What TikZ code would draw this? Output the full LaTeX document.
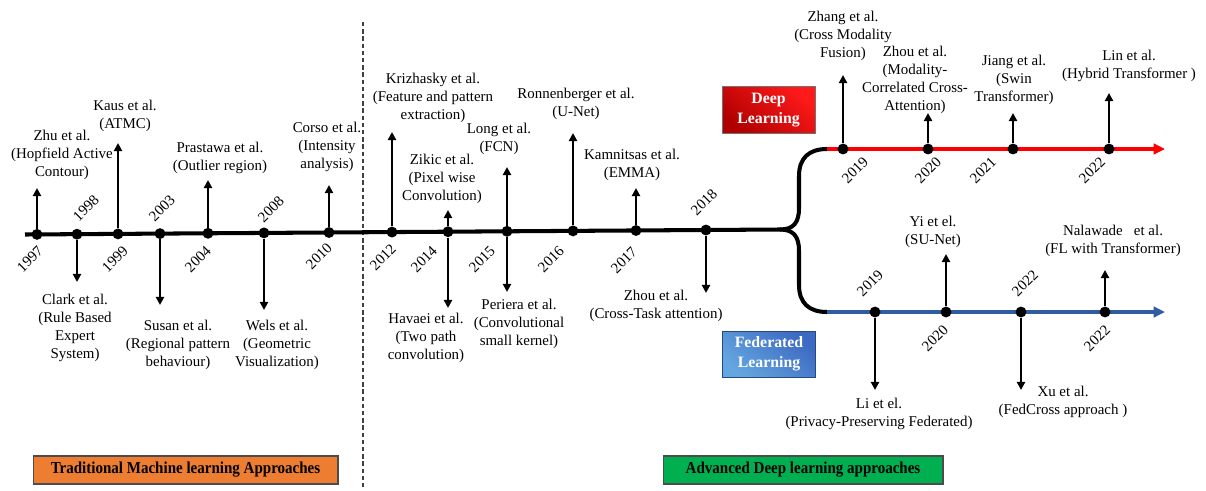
\documentclass[tikz,border=0pt]{standalone}
\usepackage{graphicx}
\usepackage{fontspec}
\setmainfont{Liberation Serif}
\usetikzlibrary{arrows.meta}

\definecolor{tlred}{HTML}{FF0000}
\definecolor{tlblue}{HTML}{2F5D9F}
\definecolor{boxorange}{HTML}{ED7D31}
\definecolor{boxgreen}{HTML}{00B050}
\definecolor{deepdark}{HTML}{B00000}
\definecolor{deeplight}{HTML}{FF1A1A}
\definecolor{fedlight}{HTML}{64A6DF}
\definecolor{feddark}{HTML}{3C69C2}

\tikzset{
  spine/.style={line width=2.3pt},
  stem/.style={line width=1.4pt,-{Triangle[width=4.6pt,length=4.6pt]}},
  dot/.style={circle,fill=black,inner sep=0pt,minimum size=6.2pt},
  lab/.style={font=\fontsize{8.5}{10.2}\selectfont,align=center,inner sep=0pt},
  yr/.style={font=\fontsize{8.5}{10}\selectfont,rotate=45,inner sep=0pt},
  era/.style={draw=black!70,line width=0.6pt,minimum height=0.56cm,inner sep=0pt,
    font=\bfseries\fontsize{9.5}{11}\selectfont},
  branchbox/.style={draw=black!55,line width=0.5pt,minimum width=1.86cm,minimum height=0.94cm,
    inner sep=0pt,text=white,align=center,font=\bfseries\fontsize{9}{11.3}\selectfont},
  colorline/.style={line width=1.8pt,-{Triangle[width=6pt,length=6.5pt]}}
}

\begin{document}
\begin{tikzpicture}[x=0.02cm,y=-0.02cm]
\useasboundingbox (0,0) rectangle (1206,490);

% era separator
\coordinate (sepTop) at (363,22);
\coordinate (sepBot) at (363,488);
\draw[black!75,line width=0.6pt,dash pattern=on 2.5pt off 1.6pt] (sepTop) -- (sepBot);

% main time axis and its fork
\coordinate (axisStart) at (25,234.5);
\coordinate (fork) at (780,229.5);
\coordinate (redStart) at (827,149);
\coordinate (redEnd) at (1165,149);
\coordinate (blueStart) at (827,312);
\coordinate (blueEnd) at (1165,312);
\draw[spine] (axisStart) -- (fork);
\draw[spine] (fork) .. controls (794,229.5) and (799,222) .. (799,208) -- (799,176)
  .. controls (799,158) and (809,149) .. (redStart);
\draw[spine] (fork) .. controls (794,229.5) and (799,237) .. (799,251) -- (799,285)
  .. controls (799,303) and (809,312) .. (blueStart);
\draw[colorline,tlred] (redStart) -- (redEnd);
\draw[colorline,tlblue] (blueStart) -- (blueEnd);

% events: dot and one stem each
\foreach \id/\x/\y/\t in {
  m97/37/234.4/188, m98/77/234.2/282, m99/118/233.9/143, m03/160/233.6/305,
  m04/208/233.3/180, m08/264/232.9/310, m10/329/232.5/185, m12/392/232.1/132,
  m14/448/231.7/210, m15/507/231.3/167, m16/573/230.9/133, m17/636/230.5/188,
  m18/706/230.0/293,
  r19/843/149/75, r20/928/149/113, r21/1013/149/113, r22/1109/149/93,
  b19/875/312/390, b20/946/312/254, b22a/1021/312/390, b22b/1105/312/270} {
  \node[dot] (\id) at (\x,\y) {};
  \coordinate (\id-tip) at (\x,\t);
  \draw[stem] (\id) -- (\id-tip);
}
% second stems of 2014 and 2015
\coordinate (m14-low) at (448,308);
\coordinate (m15-low) at (507,292);
\draw[stem] (m14) -- (m14-low);
\draw[stem] (m15) -- (m15-low);

% years
\foreach \id/\x/\y/\yrtext in {
  y97/30/259/1997, y98/86/208/1998, y99/115/259/1999, y03/162/208/2003,
  y04/198/259/2004, y08/271/209/2008, y10/319/256/2010, y12/383/257/2012,
  y14/424/259/2014, y15/482/259/2015, y16/551/259/2016, y17/624/260/2017,
  y18/704/202/2018,
  yr19/855/170/2019, yr20/928/170/2020, yr21/983/170/2021, yr22/1092/170/2022,
  yb19/870/283/2019, yb20/935/338/2020, yb22a/1025/283/2022, yb22b/1097/338/2022} {
  \node[yr] (\id) at (\x,\y) {\yrtext};
}

% works above and below the axis
\node[lab] (zhu) at (62,155) {Zhu et al.\\(Hopfield Active\\Contour)};
\node[lab] (kaus) at (125,116) {Kaus et al.\\(ATMC)};
\node[lab] (prastawa) at (220,158) {Prastawa et al.\\(Outlier region)};
\node[lab] (corso) at (327,147) {Corso et al.\\(Intensity\\analysis)};
\node[lab] (clark) at (75,328) {Clark et al.\\(Rule Based\\Expert\\System)};
\node[lab] (susan) at (178,345) {Susan et al.\\(Regional pattern\\behaviour)};
\node[lab] (wels) at (277,345) {Wels et al.\\(Geometric\\Visualization)};
\node[lab] (krizhasky) at (433,98) {Krizhasky et al.\\(Feature and pattern\\extraction)};
\node[lab] (zikic) at (442,179) {Zikic et al.\\(Pixel wise\\Convolution)};
\node[lab] (long) at (499,139) {Long et al.\\(FCN)};
\node[lab] (ronnenberger) at (576,104) {Ronnenberger et al.\\(U-Net)};
\node[lab] (kamnitsas) at (632,165) {Kamnitsas et al.\\(EMMA)};
\node[lab] (havaei) at (426,338) {Havaei et al.\\(Two path\\convolution)};
\node[lab] (periera) at (519,324) {Periera et al.\\(Convolutional\\small kernel)};
\node[lab] (zhouct) at (656,306) {Zhou et al.\\(Cross-Task attention)};
\node[lab] (zhang) at (843,36) {Zhang et al.\\(Cross Modality\\Fusion)};
\node[lab] (zhoumc) at (915,80) {Zhou et al.\\(Modality-\\Correlated Cross-\\Attention)};
\node[lab] (jiang) at (1014,80) {Jiang et al.\\(Swin\\Transformer)};
\node[lab] (lin) at (1129,66) {Lin et al.\\(Hybrid Transformer )};
\node[lab] (yi) at (933,232) {Yi et el.\\(SU-Net)};
\node[lab] (nalawade) at (1113,241) {Nalawade\ \ \ et al.\\(FL with Transformer)};
\node[lab] (li) at (879,414) {Li et el.\\(Privacy-Preserving Federated)};
\node[lab] (xu) at (1063,402) {Xu et al.\\(FedCross approach )};

% branch captions
\node[branchbox,bottom color=deepdark,top color=deeplight,shading angle=-40]
  (deep) at (768.5,110) {Deep\\Learning};
\node[branchbox,draw=tlblue!80!black,bottom color=fedlight,top color=feddark,shading angle=-40,
  minimum height=0.92cm] (fed) at (769,354) {Federated\\Learning};

% era captions
\node[era,fill=boxorange,minimum width=6.1cm] (trad) at (185.5,470)
  {\scalebox{0.9}[1]{Traditional Machine learning Approaches}};
\node[era,fill=boxgreen,minimum width=5.6cm] (adv) at (803,470)
  {\scalebox{0.9}[1]{Advanced Deep learning approaches}};
\end{tikzpicture}
\end{document}
